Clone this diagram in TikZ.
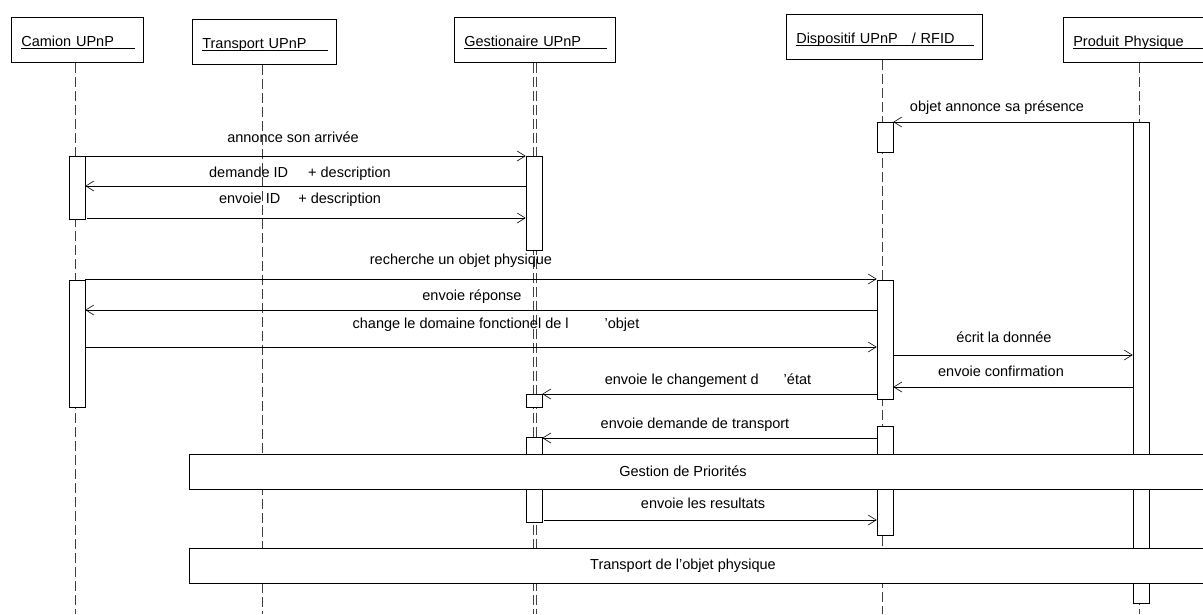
\documentclass[tikz,border=0pt]{standalone}
\usepackage{fontspec}
\setmainfont{Liberation Sans}
\usetikzlibrary{arrows.meta}

\begin{document}
\begin{tikzpicture}[
  x=1pt, y=-1pt,
  every node/.style={font=\fontsize{14.5}{17}\selectfont, inner sep=0pt},
  head/.style={
    rectangle, draw, line width=0.6pt,
    minimum height=45pt, inner xsep=10pt,
    text height=13pt, text depth=0pt,
    text width=#1, align=left, anchor=north west
  },
  life/.style={
    draw=black!75, line width=0.6pt,
    double=white, double distance=2.6pt,
    dash pattern=on 10pt off 4pt
  },
  bar/.style={
    rectangle, draw, fill=white, line width=0.6pt,
    minimum width=16pt, minimum height=#1
  },
  frame/.style={
    rectangle, draw, fill=white, line width=0.6pt,
    minimum width=1030pt, minimum height=35pt, anchor=north west
  },
  msg/.style={-{Straight Barb[length=8pt,width=10pt]}, line width=0.6pt}
]
 \clip (0,0) rectangle (1203,614);

 % Lifeline heads
 \foreach \nm/\lx/\ty/\w/\txt in {cam/11/17/112/Camion UPnP,
             tra/192/19/124/Transport UPnP,
             ges/454/17/141/Gestionaire UPnP,
             dis/786/14/176/{Dispositif UPnP\hspace{14pt}/ RFID},
             pro/1063/17/136/Produit Physique} {
  \node[head=\w pt] (\nm) at (\lx,\ty) {\txt};
  \draw[line width=0.6pt] ([xshift=10pt,yshift=-8.5pt]\nm.west)
    -- ([xshift=-9pt,yshift=-8.5pt]\nm.east);
 }

 % Lifelines
 \foreach \nm in {cam, tra, ges, dis, pro} {
  \draw[life] (\nm.south) -- (\nm.south |- 0,614);
 }

 % Activation bars
 \node[bar=30pt]  (dis1) at (885,137) {};
 \node[bar=481pt] (pro1) at (1141,362.5) {};
 \node[bar=63pt]  (cam1) at (77,187.5) {};
 \node[bar=94pt]  (ges1) at (534,203) {};
 \node[bar=127pt] (cam2) at (77,343.5) {};
 \node[bar=119pt] (dis2) at (885,339.5) {};
 \node[bar=13pt]  (ges2) at (534,400.5) {};
 \node[bar=34pt]  (dis3) at (885,443) {};
 \node[bar=23pt]  (ges3) at (534,448.5) {};
 \node[bar=37pt]  (ges4) at (534,503.5) {};
 \node[bar=50pt]  (dis4) at (885,510) {};

 % Messages
 \draw[msg] (pro1.west |- 0,122) -- (dis1.east |- 0,122);
 \node (m1) at (997,108) {objet annonce sa présence};
 \draw[msg] (cam1.east |- 0,156) -- (ges1.west |- 0,156);
 \node (m2) at (293,137) {annonce son arrivée};
 \draw[msg] (ges1.west |- 0,186) -- (cam1.east |- 0,186);
 \node (m3) at (300,174) {demande ID\hspace{16pt} + description};
 \draw[msg] ([xshift=2pt]cam1.east |- 0,218) -- (ges1.west |- 0,218);
 \node (m4) at (300,200) {envoie ID\hspace{14pt} + description};
 \draw[msg] (cam2.east |- 0,279) -- (dis2.west |- 0,279);
 \node (m5) at (461,261) {recherche un objet physique};
 \draw[msg] (dis2.west |- 0,310) -- (cam2.east |- 0,310);
 \node (m6) at (472,297) {envoie réponse};
 \draw[msg] (cam2.east |- 0,347) -- (dis2.west |- 0,347);
 \node (m7) at (496,325) {change le domaine fonctionel de l\hspace{36pt}'objet};
 \draw[msg] (dis2.east |- 0,355) -- (pro1.west |- 0,355);
 \node (m8) at (1004,337) {écrit la donnée};
 \draw[msg] (pro1.west |- 0,387) -- (dis2.east |- 0,387);
 \node (m9) at (1001,371) {envoie confirmation};
 \draw[msg] (dis2.west |- 0,394) -- (ges2.east |- 0,394);
 \node (m10) at (708,381) {envoie le changement d\hspace{25pt}'état};
 \draw[msg] (dis3.west |- 0,438) -- (ges3.east |- 0,438);
 \node (m11) at (695,425) {envoie demande de transport};
 \draw[msg] ([xshift=2pt]ges4.east |- 0,520) -- (dis4.west |- 0,520);
 \node (m12) at (703,503) {envoie les resultats};

 % Combined fragments
 \node[frame] (prio) at (189,454) {};
 \node (priotxt) at (683,471.5) {Gestion de Priorités};
 \node[frame] (trans) at (189,548) {};
 \node (transtxt) at (683,566) {Transport de l'objet physique};
\end{tikzpicture}
\end{document}
